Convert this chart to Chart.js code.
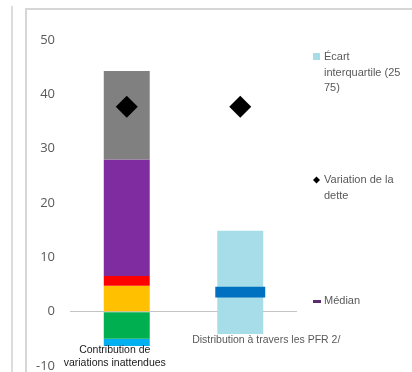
<!DOCTYPE html>
<html><head><meta charset="utf-8">
<script src="https://cdn.jsdelivr.net/npm/chart.js@4/dist/chart.umd.min.js"></script>
<style>
html,body{margin:0;padding:0;background:#fff;overflow:hidden;}
#wrap{position:relative;width:412px;height:372px;overflow:hidden;}
#outer{position:absolute;left:11px;top:6px;width:0;height:380px;border-left:2px solid #dcdcdc;}
#box{position:absolute;left:25px;top:8px;width:400px;height:380px;border-left:2px solid #d6d6d6;border-top:2px solid #d6d6d6;}
canvas{position:absolute;left:0;top:0;}
</style></head>
<body><div id="wrap"><div id="outer"></div><div id="box"></div><canvas id="c" width="412" height="377"></canvas></div>
<script>
const categories = [["Contribution de", "variations inattendues"], ["Distribution à travers les PFR 2/"]];
const grisSeg   = [[28.0, 44.3], null];
const violetSeg = [[6.55, 28.0], null];
const rougeSeg  = [[4.76, 6.55], null];
const jauneSeg  = [[0, 4.76], null];
const vertSeg   = [[-4.97, 0], null];
const cyanSeg   = [[-6.3, -4.97], null];
const ecartInterquartile = [null, [-4.1, 14.9]];
const median = [null, [2.6, 4.58]];
const variationDette = [37.7, 37.7];
const yTicks = [-10, 0, 10, 20, 30, 40, 50];
const legendLabels = [["Écart", "interquartile (25", "75)"], ["Variation de la", "dette"], ["Médian"]];

const segBar = (label, data, color, pct) => ({
  type: 'bar', label, data, backgroundColor: color, borderWidth: 0,
  barPercentage: pct || 0.405, categoryPercentage: 1, grouped: false, order: 2
});

const overlay = {
  id: 'overlay',
  afterDraw(chart) {
    const ctx = chart.ctx, x = chart.scales.x;
    ctx.save();
    ctx.textBaseline = 'middle';
    ctx.textAlign = 'center';
    ctx.font = '10.5px "Liberation Sans", Arial, sans-serif';
    ctx.fillStyle = '#1a1a1a';
    const c0 = x.getPixelForValue(0) - 12;
    ctx.fillText(categories[0][0], c0, 350);
    ctx.fillText(categories[0][1], c0, 363);
    ctx.fillStyle = '#595959';
    ctx.fillText(categories[1][0], x.getPixelForValue(1) + 26, 340);
    // legend
    ctx.textAlign = 'left';
    ctx.font = '11px "Liberation Sans", Arial, sans-serif';
    ctx.fillStyle = '#595959';
    const lx = 324;
    legendLabels[0].forEach((t, i) => ctx.fillText(t, lx, 57 + i * 15.5));
    legendLabels[1].forEach((t, i) => ctx.fillText(t, lx, 180 + i * 15.5));
    legendLabels[2].forEach((t, i) => ctx.fillText(t, lx, 301 + i * 15.5));
    ctx.fillStyle = '#a6dde8';
    ctx.fillRect(313, 53, 7, 7);
    ctx.fillStyle = '#000';
    ctx.beginPath();
    ctx.moveTo(316.5, 176.5); ctx.lineTo(320, 180); ctx.lineTo(316.5, 183.5); ctx.lineTo(313, 180); ctx.closePath(); ctx.fill();
    ctx.fillStyle = '#5b2d6e';
    ctx.fillRect(313, 300, 8, 3);
    ctx.restore();
  }
};

new Chart(document.getElementById('c'), {
  data: {
    labels: categories.map(c => c.join(' ')),
    datasets: [
      segBar('Gris', grisSeg, '#808080'),
      segBar('Violet', violetSeg, '#7f2ca0'),
      segBar('Rouge', rougeSeg, '#ff0000'),
      segBar('Jaune', jauneSeg, '#ffc000'),
      segBar('Vert', vertSeg, '#00b050'),
      segBar('Cyan', cyanSeg, '#00b0f0'),
      segBar('Écart interquartile (25 75)', ecartInterquartile, '#a6dde8'),
      Object.assign(segBar('Médian', median, '#0070c0', 0.44), { order: 1 }),
      { type: 'line', label: 'Variation de la dette', data: variationDette, showLine: false,
        pointStyle: 'rectRot', pointRadius: 11, pointHoverRadius: 11,
        backgroundColor: '#000', borderColor: '#000', borderWidth: 0, order: 0 }
    ]
  },
  options: {
    responsive: false, animation: false, devicePixelRatio: 1,
    layout: { padding: { left: 0, right: 115, top: 40, bottom: 2 } },
    plugins: { legend: { display: false }, tooltip: { enabled: false } },
    scales: {
      x: { display: false, stacked: true, offset: true },
      y: {
        min: -10, max: 50, z: 1,
        afterFit(s) { s.width = 70; s.paddingTop = 0; s.paddingBottom = 0; },
        afterBuildTicks(s) { s.ticks = yTicks.map(v => ({ value: v })); },
        border: { display: false },
        grid: { drawTicks: false, lineWidth: 1,
          color: c => (c.tick && c.tick.value === 0) ? '#c4c4c4' : 'rgba(0,0,0,0)' },
        ticks: { padding: 15, color: '#595959',
          font: { family: '"Open Sans", sans-serif', size: 13 } }
      }
    }
  },
  plugins: [overlay]
});
</script></body></html>
